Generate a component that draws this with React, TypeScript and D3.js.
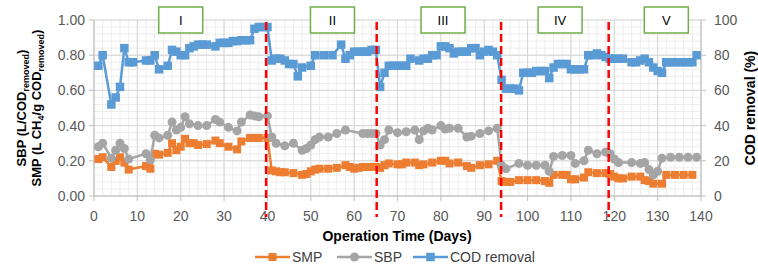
import * as d3 from 'd3';
import React from 'react';

const codDays = [1, 2, 4, 5, 6, 7, 8, 9, 12, 13, 14, 15, 17, 18, 19, 20, 21, 22, 23, 24, 25, 26, 28, 29, 30, 31, 32, 33, 34, 35, 36, 37, 38, 39, 40, 41, 42, 43, 44, 45, 46, 47, 48, 50, 51, 53, 55, 57, 58, 59, 60, 61, 62, 63, 64, 65, 66, 67, 68, 69, 70, 71, 72, 73, 75, 76, 77, 78, 79, 80, 81, 82, 83, 84, 85, 86, 87, 88, 89, 90, 91, 92, 93, 94, 95, 96, 97, 98, 99, 100, 101, 102, 103, 104, 105, 106, 107, 108, 109, 110, 111, 112, 113, 114, 115, 116, 117, 118, 119, 120, 121, 122, 124, 125, 126, 127, 128, 129, 130, 131, 132, 133, 134, 135, 136, 137, 138, 139];
const codValues = [74, 80, 52, 56, 62, 84, 76, 76, 77, 77, 80, 72, 74, 83, 82, 80, 80, 84, 85, 86, 86, 86, 85, 87, 87, 87, 88, 88, 88.5, 88.5, 88.5, 95, 96, 96, 96, 77, 78, 78, 77, 75, 75, 68, 73, 74, 80, 80, 80, 86, 78, 80, 82, 82, 82, 82, 83, 83, 62, 70, 74, 74, 74, 74, 74, 78, 77, 78, 78, 80, 80, 85, 85, 84, 81, 82, 82, 82, 84, 84, 80, 82, 83, 82, 80, 66, 61, 61, 61, 60, 70, 70, 70, 71, 71, 71, 67, 73, 75, 75, 75, 72, 72, 72, 72, 80, 80, 81, 80, 79, 78, 78, 78, 78, 76, 76, 77, 78, 76, 73, 71, 70, 76, 76, 76, 76, 76, 76, 76, 80];

const smpDays = [1, 2, 4, 5, 6, 7, 8, 12, 13, 14, 15, 17, 18, 19, 20, 21, 22, 23, 24, 26, 28, 29, 31, 33, 34, 36, 37, 38, 40, 41, 42, 43, 44, 46, 48, 49, 50, 51, 52, 54, 56, 58, 59, 60, 61, 62, 63, 64, 65, 66, 67, 68, 70, 71, 72, 74, 75, 76, 78, 80, 81, 82, 84, 86, 87, 89, 91, 93, 94, 95, 96, 98, 100, 102, 104, 105, 106, 108, 109, 110, 111, 113, 114, 116, 118, 119, 120, 121, 122, 124, 126, 127, 128, 129, 131, 132, 134, 136, 138];
const smpValues = [0.21, 0.22, 0.165, 0.2, 0.22, 0.19, 0.15, 0.17, 0.155, 0.24, 0.235, 0.245, 0.3, 0.26, 0.28, 0.325, 0.3, 0.3, 0.29, 0.295, 0.315, 0.3, 0.28, 0.265, 0.31, 0.33, 0.33, 0.33, 0.33, 0.145, 0.14, 0.135, 0.135, 0.13, 0.12, 0.125, 0.14, 0.15, 0.155, 0.155, 0.16, 0.175, 0.165, 0.155, 0.16, 0.165, 0.165, 0.165, 0.165, 0.16, 0.175, 0.185, 0.18, 0.18, 0.19, 0.19, 0.175, 0.18, 0.19, 0.2, 0.2, 0.185, 0.19, 0.17, 0.16, 0.175, 0.18, 0.2, 0.085, 0.08, 0.08, 0.09, 0.09, 0.09, 0.085, 0.075, 0.12, 0.12, 0.12, 0.095, 0.095, 0.105, 0.135, 0.13, 0.13, 0.125, 0.11, 0.1, 0.1, 0.11, 0.11, 0.09, 0.085, 0.07, 0.07, 0.12, 0.12, 0.12, 0.12];

const sbpDays = [1, 2, 4, 5, 6, 7, 8, 12, 13, 14, 15, 17, 18, 19, 20, 21, 22, 24, 26, 28, 29, 31, 33, 34, 36, 37, 38, 40, 41, 42, 44, 46, 48, 49, 50, 51, 52, 54, 56, 58, 62, 63, 64, 65, 66, 67, 68, 70, 72, 74, 75, 76, 77, 78, 80, 81, 82, 84, 86, 87, 89, 91, 93, 94, 95, 98, 100, 102, 104, 105, 106, 108, 110, 111, 113, 114, 116, 118, 119, 120, 121, 124, 126, 127, 128, 129, 130, 131, 133, 135, 137, 139];
const sbpValues = [0.28, 0.3, 0.215, 0.26, 0.3, 0.27, 0.21, 0.24, 0.205, 0.345, 0.33, 0.345, 0.42, 0.375, 0.39, 0.45, 0.41, 0.4, 0.4, 0.435, 0.42, 0.39, 0.37, 0.42, 0.46, 0.455, 0.45, 0.455, 0.335, 0.3, 0.285, 0.3, 0.26, 0.27, 0.29, 0.32, 0.335, 0.335, 0.355, 0.375, 0.355, 0.355, 0.355, 0.355, 0.29, 0.32, 0.375, 0.36, 0.365, 0.375, 0.32, 0.37, 0.385, 0.375, 0.4, 0.38, 0.385, 0.385, 0.335, 0.34, 0.355, 0.37, 0.385, 0.175, 0.155, 0.185, 0.175, 0.175, 0.175, 0.14, 0.225, 0.23, 0.23, 0.185, 0.2, 0.26, 0.24, 0.25, 0.24, 0.21, 0.19, 0.19, 0.185, 0.19, 0.15, 0.12, 0.14, 0.215, 0.22, 0.22, 0.22, 0.22];

const phaseBreaks = [39.7, 65.2, 93.9, 118.7];
const phaseLabels = ['I', 'II', 'III', 'IV', 'V'];
const phaseCenters = [20, 55, 80.5, 107.5, 132];

const xTicks = [0, 10, 20, 30, 40, 50, 60, 70, 80, 90, 100, 110, 120, 130, 140];
const leftTicks = [0, 0.2, 0.4, 0.6, 0.8, 1.0];
const rightTicks = [0, 20, 40, 60, 80, 100];

const W = 758;
const H = 267;
const font = "'Liberation Sans', Arial, sans-serif";

const x = d3.scaleLinear().domain([0, 140]).range([94, 701]);
const yL = d3.scaleLinear().domain([0, 1]).range([196, 20]);
const yR = d3.scaleLinear().domain([0, 100]).range([196, 20]);

const ORANGE = '#ED7D31';
const GRAY = '#A5A5A5';
const BLUE = '#5B9BD5';

const App = () => {
    const minorX = d3.range(0, 141, 2);
    const minorY = d3.range(0, 1.0001, 0.04);

    const smp = smpDays.map((d, i) => [x(d), yL(smpValues[i])]);
    const sbp = sbpDays.map((d, i) => [x(d), yL(sbpValues[i])]);
    const cod = codDays.map((d, i) => [x(d), yR(codValues[i])]);
    const line = d3.line();

    return (
        <svg width={W} height={H} style={{ position: 'absolute', left: 0, top: 0, background: '#fff' }} fontFamily={font}>
            {/* minor grid */}
            {minorX.map(d => (
                <line key={'mx' + d} x1={x(d)} x2={x(d)} y1={yL(1)} y2={yL(0)} stroke="#EDEDED" strokeWidth={1} />
            ))}
            {minorY.map(d => (
                <line key={'my' + d} x1={x(0)} x2={x(140)} y1={yL(d)} y2={yL(d)} stroke="#EDEDED" strokeWidth={1} />
            ))}
            {/* major grid */}
            {xTicks.map(d => (
                <line key={'gx' + d} x1={x(d)} x2={x(d)} y1={yL(1)} y2={yL(0)} stroke="#D6D6D6" strokeWidth={1} />
            ))}
            {leftTicks.map(d => (
                <line key={'gy' + d} x1={x(0)} x2={x(140)} y1={yL(d)} y2={yL(d)} stroke="#D6D6D6" strokeWidth={1} />
            ))}
            {/* axes */}
            <line x1={x(0)} x2={x(140)} y1={yL(0)} y2={yL(0)} stroke="#BFBFBF" />
            <line x1={x(0)} x2={x(0)} y1={yL(0)} y2={yL(1)} stroke="#BFBFBF" />
            <line x1={x(140)} x2={x(140)} y1={yL(0)} y2={yL(1)} stroke="#BFBFBF" />
            {xTicks.map(d => (
                <g key={'xt' + d}>
                    <line x1={x(d)} x2={x(d)} y1={196} y2={201} stroke="#BFBFBF" />
                    <text x={x(d)} y={221} textAnchor="middle" fontSize={14} fill="#595959">{d}</text>
                </g>
            ))}
            {leftTicks.map(d => (
                <g key={'lt' + d}>
                    <line x1={x(0) - 5} x2={x(0)} y1={yL(d)} y2={yL(d)} stroke="#BFBFBF" />
                    <text x={85} y={yL(d) + 5} textAnchor="end" fontSize={14} fill="#595959">{d.toFixed(2)}</text>
                </g>
            ))}
            {rightTicks.map(d => (
                <g key={'rt' + d}>
                    <line x1={x(140)} x2={x(140) + 5} y1={yR(d)} y2={yR(d)} stroke="#BFBFBF" />
                    <text x={714} y={yR(d) + 5} textAnchor="start" fontSize={14} fill="#595959">{d}</text>
                </g>
            ))}

            {/* SMP */}
            <path d={line(smp)} fill="none" stroke={ORANGE} strokeWidth={2.5} />
            {smp.map((p, i) => (
                <rect key={'smp' + i} x={p[0] - 4} y={p[1] - 4} width={8} height={8} fill={ORANGE} />
            ))}
            {/* SBP */}
            <path d={line(sbp)} fill="none" stroke={GRAY} strokeWidth={2.5} />
            {sbp.map((p, i) => (
                <circle key={'sbp' + i} cx={p[0]} cy={p[1]} r={4.5} fill={GRAY} />
            ))}
            {/* COD removal */}
            <path d={line(cod)} fill="none" stroke={BLUE} strokeWidth={2.5} />
            {cod.map((p, i) => (
                <rect key={'cod' + i} x={p[0] - 4.25} y={p[1] - 4.25} width={8.5} height={8.5} fill={BLUE} />
            ))}

            {/* phase separators */}
            {phaseBreaks.map(d => (
                <line key={'pb' + d} x1={x(d)} x2={x(d)} y1={22} y2={217} stroke="#FF0000" strokeWidth={2.5} strokeDasharray="8,4" />
            ))}
            {phaseLabels.map((lab, i) => (
                <g key={'pl' + lab}>
                    <rect x={x(phaseCenters[i]) - 22} y={7} width={44} height={26} fill="#fff" stroke="#70AD47" strokeWidth={1.5} />
                    <text x={x(phaseCenters[i])} y={25} textAnchor="middle" fontSize={13} fill="#000">{lab}</text>
                </g>
            ))}

            {/* axis titles */}
            <text x={397} y={241} textAnchor="middle" fontSize={14} fontWeight="bold" fill="#000">Operation Time (Days)</text>
            <g transform="translate(26,108) rotate(-90)">
                <text x={0} y={0} textAnchor="middle" fontSize={13} fontWeight="bold" fill="#000">
                    SBP (L/COD<tspan fontSize={9} dy={3}>removed</tspan><tspan dy={-3}>)</tspan>
                </text>
            </g>
            <g transform="translate(41,108) rotate(-90)">
                <text x={0} y={0} textAnchor="middle" fontSize={13} fontWeight="bold" fill="#000">
                    SMP (L CH<tspan fontSize={9} dy={3}>4</tspan><tspan dy={-3}>/g COD</tspan><tspan fontSize={9} dy={3}>removed</tspan><tspan dy={-3}>)</tspan>
                </text>
            </g>
            <g transform="translate(755,108) rotate(-90)">
                <text x={0} y={0} textAnchor="middle" fontSize={14} fontWeight="bold" fill="#000">COD removal (%)</text>
            </g>

            {/* legend */}
            <line x1={255} x2={290} y1={257} y2={257} stroke={ORANGE} strokeWidth={2.5} />
            <rect x={268.5} y={253} width={8} height={8} fill={ORANGE} />
            <text x={292} y={262} fontSize={14} fill="#404040">SMP</text>
            <line x1={337} x2={372} y1={257} y2={257} stroke={GRAY} strokeWidth={2.5} />
            <circle cx={354.5} cy={257} r={4.5} fill={GRAY} />
            <text x={374} y={262} fontSize={14} fill="#404040">SBP</text>
            <line x1={413} x2={448} y1={257} y2={257} stroke={BLUE} strokeWidth={2.5} />
            <rect x={426.25} y={252.75} width={8.5} height={8.5} fill={BLUE} />
            <text x={450} y={262} fontSize={14} fill="#404040">COD removal</text>
        </svg>
    );
};

export default App;
